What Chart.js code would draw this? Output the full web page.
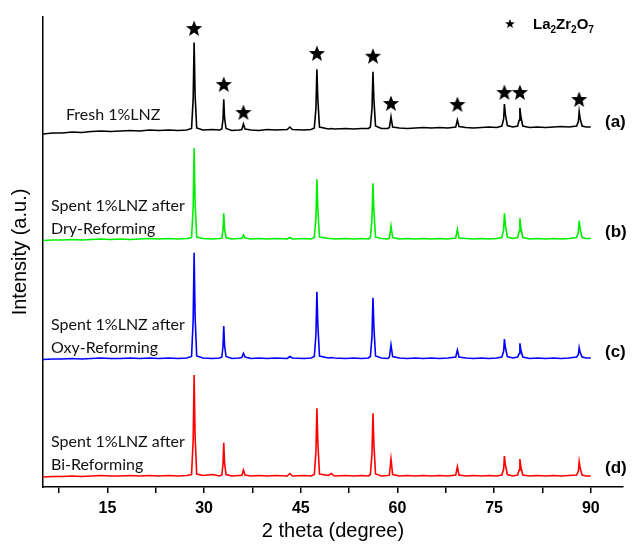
<!DOCTYPE html>
<html>
<head>
<meta charset="utf-8">
<script src="https://cdn.jsdelivr.net/npm/chart.js@4.4.1/dist/chart.umd.min.js"></script>
<style>
html,body{margin:0;padding:0;background:#fff;}
canvas{display:block;}
</style>
</head>
<body>
<canvas id="c" width="633" height="545"></canvas>
<script>
// 2 theta sampling points (degree)
const thetas = [5,6.5,8,9.5,11,12.5,14,15.5,17,18.5,20,21.5,23,24.5,26,27.3,
 28.05,28.3,28.45,28.6,28.85,29.8,31.3,32.4,
 32.75,32.93,33.05,33.17,33.4,34.3,35.4,
 35.85,36.1,36.35,37.3,38.5,39.8,41,42.9,43.3,43.7,45.5,46.6,
 47.1,47.35,47.5,47.65,47.9,49.3,49.75,50.2,52,53.2,54.4,55.5,
 55.8,56.05,56.2,56.35,56.6,57.5,58.5,
 58.75,59.0,59.25,60.3,61.5,62.8,64,65.3,66.5,67.8,
 69.05,69.3,69.55,70.6,71.8,73,74.2,75.4,
 76.2,76.48,76.6,76.75,77.05,77.9,
 78.65,78.88,79.0,79.15,79.45,80.5,81.7,83,84.2,85.4,86.6,
 87.8,88.08,88.2,88.35,88.65,89.3,90];

// intensities (a.u., stacked with offsets as in the figure)
const fresh = [353,354,354,355,354.5,355.5,356,355.5,356,356.5,356,357,356.5,357,356.5,357,
 358.5,387.6,444.5,392,359,357,357.5,357,
 358,367.7,387.7,369.3,358.5,356.5,357,
 357.5,363,358,357,356.5,357.5,357,357.5,360,357.5,357,357.5,
 359,378.5,417.7,387.6,360,358,358.5,358,358.5,358,358.5,358.5,
 360,378.4,415.3,386.9,361,358.5,358.5,
 359.5,370.3,360,359,358.5,359,359.5,359,359.5,359,
 360,367,360.5,359.5,359,359.5,360,359.5,
 361,368,383,372.6,361.5,360,
 361,366.7,379,370.5,361,359.5,360,359.5,360,360.5,360,
 361,365.4,375.3,368.4,361,360,360];

const dry = [246.5,247,247,247.5,247,247.5,248,247.5,248,247.5,248,248.5,248,248.5,248,248.5,
 249.5,279.7,338.7,284.3,250,248.5,248,248.5,
 249,257,273.7,258.3,249.5,248,248.5,
 248.5,252,249,248,248.5,248,248.5,248,249.5,248,248.5,248,
 249.5,268.9,307.7,277.9,250,248.5,248.5,248,248.5,248,248.5,248,
 249.5,267.5,303.7,275.9,250,248.5,248,
 249,261,249.5,248,248.5,248,248.5,248,248.5,248,
 249,257.7,249,248.5,248,248.5,248,248.5,
 249.5,257.3,273.7,262.4,250,248.5,
 249.5,255.6,268.7,259.6,249.5,248,248.5,248,248.5,248,248.5,
 249.5,254.7,266.3,258.3,249.5,248.5,248.5];

const oxy = [127.5,128,128,128.5,128,128.5,129,128.5,128.5,129,128.5,129,128.5,129,128.5,129,
 130.5,165.9,234.3,171.1,131,129,128.5,129,
 130,140.2,161,141.8,130.5,128.5,129,
 129.5,133.7,130,128.5,129,128.5,129,128.5,130.5,129,128.5,129,
 130.5,152.2,195.3,162.2,131,129,129.5,129,128.5,129,128.5,129,
 130.5,150.1,189.3,159.2,131,129,128.5,
 130,142,130.5,129,128.5,129,128.5,129,128.5,129,
 130,137,130,129,128.5,129,128.5,129,
 130,135.7,148,139.5,130.5,129,
 130,133.4,143.7,137.1,130,128.5,129,128.5,129,128.5,129,
 130,132.6,139.3,134.7,130,129,129];

const bi = [10,10.5,10.5,11,10.5,11,11.5,11,11,11.5,11,11.5,11,11.5,11,11.5,
 12.5,46.4,112,51.4,13,11.5,12.5,11,
 12,22.7,44.3,24.3,12.5,11,11.5,
 11.5,17,12,11,11.5,11,11.5,11,13.5,11,11.5,11,
 12.5,34.7,78.7,44.9,13,11.5,13.5,11,11.5,11,11.5,11,
 12.5,33,73.7,42.4,13,11,11.5,
 12,28,12.5,11,11.5,11,11.5,11,11.5,11,
 12,20.3,12,11,11.5,11,11.5,11,
 12,18,31,22,12.5,11,
 12,16.9,28,20.4,12,11,11.5,11,11.5,11,11.5,
 12,16,25.3,18.9,12,11,11];

// La2Zr2O7 reflection markers (2theta, marker height)
const starTheta = [28.45,33.05,36.1,47.5,56.2,59.0,69.3,76.6,79.0,88.2];
const starY = [458,402,374,433,430.3,383,382,394,394,387];

// x-axis ticks
const tickValues = [7.5,15,22.5,30,37.5,45,52.5,60,67.5,75,82.5,90];
const labeledTicks = [15,30,45,60,75,90];

const seriesNames = ['Fresh 1%LNZ','Dry-Reforming','Oxy-Reforming','Bi-Reforming'];

function makeStar(size, rOut, rIn){
  const c = document.createElement('canvas');
  c.width = size; c.height = size;
  const g = c.getContext('2d');
  g.fillStyle = '#000';
  g.beginPath();
  for (let i=0;i<10;i++){
    const r = i%2===0 ? rOut : rIn;
    const a = -Math.PI/2 + i*Math.PI/5;
    const px = size/2 + r*Math.cos(a), py = size/2 + r*Math.sin(a);
    if(i===0) g.moveTo(px,py); else g.lineTo(px,py);
  }
  g.closePath(); g.fill();
  return c;
}
const bigStar = makeStar(20, 8.5, 3.6);
const smallStar = makeStar(12, 5, 2.1);

const toXY = (ys) => thetas.map((t,i)=>({x:t, y:ys[i]}));

const notes = [
  {lines:['Fresh 1%LNZ'], x:66, y:115},
  {lines:['Spent 1%LNZ after','Dry-Reforming'], x:51, y:206},
  {lines:['Spent 1%LNZ after','Oxy-Reforming'], x:51, y:325},
  {lines:['Spent 1%LNZ after','Bi-Reforming'], x:51, y:442}
];
const tags = [{t:'(a)',y:122},{t:'(b)',y:232},{t:'(c)',y:352},{t:'(d)',y:468}];

const annot = {
  id:'annot',
  afterDraw(chart){
    const ctx = chart.ctx;
    ctx.save();
    ctx.fillStyle = '#111';
    ctx.textBaseline = 'middle';
    ctx.textAlign = 'left';
    ctx.font = '16px Lato';
    notes.forEach(n=>{
      n.lines.forEach((l,k)=>ctx.fillText(l, n.x, n.y + k*23));
    });
    ctx.fillStyle = '#000';
    ctx.font = 'bold 17px "Liberation Sans", Arial';
    tags.forEach(tg=>ctx.fillText(tg.t, 605, tg.y));
    // legend
    ctx.drawImage(smallStar, 510 - smallStar.width/2, 24 - smallStar.height/2);
    let x = 533;
    const parts = [['La',0],['2',1],['Zr',0],['2',1],['O',0],['7',1]];
    ctx.textBaseline = 'alphabetic';
    parts.forEach(p=>{
      ctx.font = p[1] ? 'bold 10px "Liberation Sans", Arial' : 'bold 15px "Liberation Sans", Arial';
      ctx.fillText(p[0], x, p[1] ? 33 : 29);
      x += ctx.measureText(p[0]).width;
    });
    ctx.restore();
  }
};

const lineDs = (label, ys, color) => ({
  label, data: toXY(ys), borderColor: color, backgroundColor: color,
  borderWidth: 1.6, pointRadius: 0, tension: 0, fill: false
});

new Chart(document.getElementById('c'), {
  type: 'line',
  data: {
    datasets: [
      lineDs(seriesNames[0], fresh, '#000000'),
      lineDs(seriesNames[1], dry, '#00ee00'),
      lineDs(seriesNames[2], oxy, '#0000ff'),
      lineDs(seriesNames[3], bi, '#ff0000'),
      {
        label: 'La2Zr2O7', type: 'scatter',
        data: starTheta.map((t,i)=>({x:t, y:starY[i]})),
        pointStyle: bigStar, pointRadius: 9, showLine: false
      }
    ]
  },
  options: {
    responsive: false,
    animation: false,
    layout: {padding: {left: 0, top: 17, right: 10, bottom: 0}},
    plugins: {legend: {display: false}, tooltip: {enabled: false}},
    scales: {
      x: {
        type: 'linear', min: 5, max: 95,
        afterBuildTicks: (s) => { s.ticks = tickValues.map(v=>({value:v})); },
        afterFit: (s) => { s.height = 58; },
        ticks: {
          autoSkip: false, maxRotation: 0, padding: 6, color: '#000',
          font: {family: '"Liberation Sans", Arial', size: 16, weight: 'bold'},
          callback: (v) => labeledTicks.includes(v) ? String(v) : ''
        },
        grid: {display: true, drawOnChartArea: false, drawTicks: true, tickLength: 6, color: '#000', lineWidth: 1.5},
        border: {display: true, color: '#000', width: 1.5},
        title: {display: true, text: '2 theta (degree)', color: '#000',
          font: {family: '"Liberation Sans", Arial', size: 20}, padding: {top: 0, bottom: 2}}
      },
      y: {
        type: 'linear', min: 0, max: 470,
        afterFit: (s) => { s.width = 43; },
        ticks: {display: false},
        grid: {display: false, drawTicks: false},
        border: {display: true, color: '#000', width: 1.5},
        title: {display: true, text: 'Intensity (a.u.)', color: '#000',
          font: {family: '"Liberation Sans", Arial', size: 20}, padding: {top: 8, bottom: 0}}
      }
    }
  },
  plugins: [annot]
});
</script>
</body>
</html>
